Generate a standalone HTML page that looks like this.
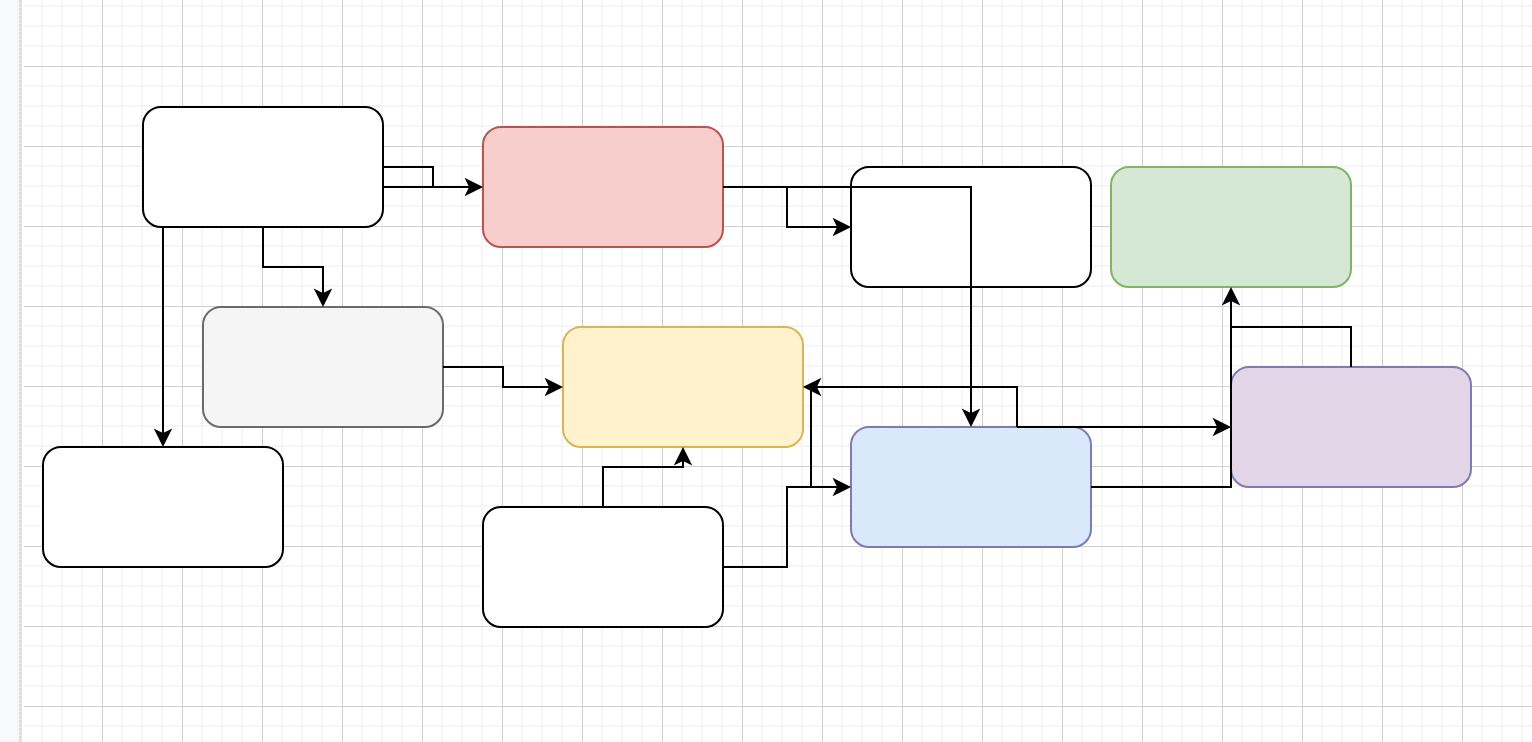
<!DOCTYPE html><html><head><meta charset="utf-8"><style>html,body{margin:0;padding:0;width:1532px;height:742px;overflow:hidden;background:#fff;font-family:"Liberation Sans",sans-serif}svg{display:block}</style></head><body>
<svg width="1532" height="742" viewBox="0 0 1532 742">
<defs><pattern id="strip" x="0" y="0" width="4" height="4" patternUnits="userSpaceOnUse"><rect x="0" y="0" width="1" height="4" fill="#e3d5ea"/><rect x="0" y="3" width="1" height="1" fill="#f3f1f4"/><rect x="1" y="0" width="1" height="4" fill="#dfd4e4"/><rect x="1" y="2" width="1" height="1" fill="#d9e9d6"/><rect x="2" y="0" width="1" height="4" fill="#dbeada"/><rect x="2" y="2" width="1" height="1" fill="#e3d6ea"/></pattern></defs>
<rect x="0" y="0" width="16" height="742" fill="#f8f9fb"/>
<rect x="16" y="0" width="3" height="742" fill="#f5f6f5"/>
<rect x="0" y="0" width="3" height="742" fill="url(#strip)" transform="translate(19 0)"/>
<path d="M42 0V742M62 0V742M82 0V742M122 0V742M142 0V742M162 0V742M202 0V742M222 0V742M242 0V742M282 0V742M302 0V742M322 0V742M362 0V742M382 0V742M402 0V742M442 0V742M462 0V742M482 0V742M522 0V742M542 0V742M562 0V742M602 0V742M622 0V742M642 0V742M682 0V742M702 0V742M722 0V742M762 0V742M782 0V742M802 0V742M842 0V742M862 0V742M882 0V742M922 0V742M942 0V742M962 0V742M1002 0V742M1022 0V742M1042 0V742M1082 0V742M1102 0V742M1122 0V742M1162 0V742M1182 0V742M1202 0V742M1242 0V742M1262 0V742M1282 0V742M1322 0V742M1342 0V742M1362 0V742M1402 0V742M1422 0V742M1442 0V742M1482 0V742M1502 0V742M1522 0V742M24 6H1532M24 26H1532M24 46H1532M24 86H1532M24 106H1532M24 126H1532M24 166H1532M24 186H1532M24 206H1532M24 246H1532M24 266H1532M24 286H1532M24 326H1532M24 346H1532M24 366H1532M24 406H1532M24 426H1532M24 446H1532M24 486H1532M24 506H1532M24 526H1532M24 566H1532M24 586H1532M24 606H1532M24 646H1532M24 666H1532M24 686H1532M24 726H1532" stroke="#f6f6f6" stroke-width="2" fill="none"/>
<path d="M102.5 0V742M182.5 0V742M262.5 0V742M342.5 0V742M422.5 0V742M502.5 0V742M582.5 0V742M662.5 0V742M742.5 0V742M822.5 0V742M902.5 0V742M982.5 0V742M1062.5 0V742M1142.5 0V742M1222.5 0V742M1302.5 0V742M1382.5 0V742M1462.5 0V742M24 66.5H1532M24 146.5H1532M24 226.5H1532M24 306.5H1532M24 386.5H1532M24 466.5H1532M24 546.5H1532M24 626.5H1532M24 706.5H1532" stroke="#d0d0d0" stroke-width="1" fill="none"/>
<rect x="143" y="107" width="240" height="120" rx="18" ry="18" fill="#ffffff" stroke="#000000" stroke-width="2" stroke-miterlimit="10"/>
<rect x="483" y="127" width="240" height="120" rx="18" ry="18" fill="#f8cecc" stroke="#b85450" stroke-width="2" stroke-miterlimit="10"/>
<rect x="851" y="167" width="240" height="120" rx="18" ry="18" fill="#ffffff" stroke="#000000" stroke-width="2" stroke-miterlimit="10"/>
<rect x="1111" y="167" width="240" height="120" rx="18" ry="18" fill="#d5e8d4" stroke="#82b366" stroke-width="2" stroke-miterlimit="10"/>
<rect x="203" y="307" width="240" height="120" rx="18" ry="18" fill="#f5f5f5" stroke="#6b6b6b" stroke-width="2" stroke-miterlimit="10"/>
<rect x="563" y="327" width="240" height="120" rx="18" ry="18" fill="#fff2cc" stroke="#d6b656" stroke-width="2" stroke-miterlimit="10"/>
<rect x="851" y="427" width="240" height="120" rx="18" ry="18" fill="#dae8fc" stroke="#7e7caf" stroke-width="2" stroke-miterlimit="10"/>
<rect x="1231" y="367" width="240" height="120" rx="18" ry="18" fill="#e1d5e7" stroke="#7e7caf" stroke-width="2" stroke-miterlimit="10"/>
<rect x="43" y="447" width="240" height="120" rx="18" ry="18" fill="#ffffff" stroke="#000000" stroke-width="2" stroke-miterlimit="10"/>
<rect x="483" y="507" width="240" height="120" rx="18" ry="18" fill="#ffffff" stroke="#000000" stroke-width="2" stroke-miterlimit="10"/>
<path d="M383 187L470.264 187" fill="none" stroke="#000" stroke-width="2" stroke-miterlimit="10"/><path d="M480.764 187.000L466.764 194.000L470.264 187.000L466.764 180.000Z" fill="#000" stroke="#000" stroke-width="2" stroke-miterlimit="10"/>
<path d="M383 167L433 167L433 187" fill="none" stroke="#000" stroke-width="2" stroke-miterlimit="10"/>
<path d="M163 227L163 434.264" fill="none" stroke="#000" stroke-width="2" stroke-miterlimit="10"/><path d="M163.000 444.764L156.000 430.764L163.000 434.264L170.000 430.764Z" fill="#000" stroke="#000" stroke-width="2" stroke-miterlimit="10"/>
<path d="M263 227L263 267L323 267L323 294.264" fill="none" stroke="#000" stroke-width="2" stroke-miterlimit="10"/><path d="M323.000 304.764L316.000 290.764L323.000 294.264L330.000 290.764Z" fill="#000" stroke="#000" stroke-width="2" stroke-miterlimit="10"/>
<path d="M443 367L503 367L503 387L550.264 387" fill="none" stroke="#000" stroke-width="2" stroke-miterlimit="10"/><path d="M560.764 387.000L546.764 394.000L550.264 387.000L546.764 380.000Z" fill="#000" stroke="#000" stroke-width="2" stroke-miterlimit="10"/>
<path d="M723 187L787 187L787 227L838.264 227" fill="none" stroke="#000" stroke-width="2" stroke-miterlimit="10"/><path d="M848.764 227.000L834.764 234.000L838.264 227.000L834.764 220.000Z" fill="#000" stroke="#000" stroke-width="2" stroke-miterlimit="10"/>
<path d="M723 187L971 187L971 414.264" fill="none" stroke="#000" stroke-width="2" stroke-miterlimit="10"/><path d="M971.000 424.764L964.000 410.764L971.000 414.264L978.000 410.764Z" fill="#000" stroke="#000" stroke-width="2" stroke-miterlimit="10"/>
<path d="M603 507L603 467L683 467L683 459.736" fill="none" stroke="#000" stroke-width="2" stroke-miterlimit="10"/><path d="M683.000 449.236L690.000 463.236L683.000 459.736L676.000 463.236Z" fill="#000" stroke="#000" stroke-width="2" stroke-miterlimit="10"/>
<path d="M723 567L787 567L787 487L838.264 487" fill="none" stroke="#000" stroke-width="2" stroke-miterlimit="10"/><path d="M848.764 487.000L834.764 494.000L838.264 487.000L834.764 480.000Z" fill="#000" stroke="#000" stroke-width="2" stroke-miterlimit="10"/>
<path d="M1017 427L1017 387L815.736 387" fill="none" stroke="#000" stroke-width="2" stroke-miterlimit="10"/><path d="M805.236 387.000L819.236 380.000L815.736 387.000L819.236 394.000Z" fill="#000" stroke="#000" stroke-width="2" stroke-miterlimit="10"/>
<path d="M811 487L811 387" fill="none" stroke="#000" stroke-width="2" stroke-miterlimit="10"/>
<path d="M1017 427L1218.26 427" fill="none" stroke="#000" stroke-width="2" stroke-miterlimit="10"/><path d="M1228.764 427.000L1214.764 434.000L1218.264 427.000L1214.764 420.000Z" fill="#000" stroke="#000" stroke-width="2" stroke-miterlimit="10"/>
<path d="M1091 487L1231 487L1231 299.736" fill="none" stroke="#000" stroke-width="2" stroke-miterlimit="10"/><path d="M1231.000 289.236L1238.000 303.236L1231.000 299.736L1224.000 303.236Z" fill="#000" stroke="#000" stroke-width="2" stroke-miterlimit="10"/>
<path d="M1351 367L1351 327L1231 327" fill="none" stroke="#000" stroke-width="2" stroke-miterlimit="10"/>
</svg></body></html>
